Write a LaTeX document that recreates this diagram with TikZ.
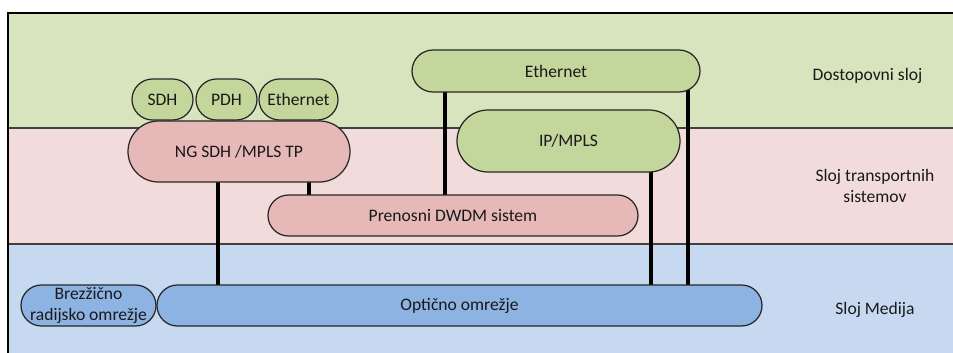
\documentclass[tikz,border=0pt]{standalone}
\usepackage{fontspec}
\setmainfont{Carlito}
\usetikzlibrary{positioning,backgrounds}
\definecolor{bandgreen}{HTML}{D7E4BD}
\definecolor{bandred}{HTML}{F2DCDB}
\definecolor{bandblue}{HTML}{C6D9F1}
\definecolor{boxgreen}{HTML}{C3D69B}
\definecolor{boxred}{HTML}{E6B9B8}
\definecolor{boxblue}{HTML}{8DB3E2}
\tikzset{
  pill/.style 2 args={draw=black!85,line width=0.7pt,inner sep=0pt,align=center,
    font=\fontsize{10}{11.5}\selectfont,text=black!90,
    minimum width=#1cm,minimum height=#2cm,rounded corners=#2*0.5cm},
  layername/.style={align=center,font=\fontsize{10}{11.5}\selectfont,text=black!90},
  link/.style={line width=2pt,black}
}

\begin{document}
\begin{tikzpicture}
  \useasboundingbox (0,0) rectangle (19.06,7.04);
  % pasovi slojev
  \begin{pgfonlayer}{background}
    \fill[bandgreen] (0.16,4.48) rectangle (19.2,6.78);
    \fill[bandred] (0.16,2.16) rectangle (19.2,4.48);
    \fill[bandblue] (0.16,-0.1) rectangle (19.2,2.16);
    \draw[black!75,line width=0.6pt] (0.16,4.48) -- (19.2,4.48);
    \draw[black!75,line width=0.6pt] (0.16,2.16) -- (19.2,2.16);
    \draw[black,line width=0.6pt] (0.16,-0.1) rectangle (19.2,6.78);
  \end{pgfonlayer}
  % dostopovni sloj
  \node[pill={1.22}{0.82},fill=boxgreen] (sdh) at (3.25,5.05) {SDH};
  \node[pill={1.22}{0.82},fill=boxgreen] (pdh) at (4.53,5.05) {PDH};
  \node[pill={1.58}{0.82},fill=boxgreen] (ethsmall) at (5.97,5.05) {Ethernet};
  \node[pill={5.76}{0.84},fill=boxgreen] (ethtop) at (11.12,5.62) {Ethernet};
  \node[pill={4.46}{1.24},fill=boxgreen] (ipmpls) at (11.37,4.22) {IP/MPLS};
  % transportni sloj
  \node[pill={4.44}{1.22},fill=boxred] (ngsdh) at (4.78,4.01) {NG SDH /MPLS TP};
  \node[pill={7.40}{0.82},fill=boxred] (dwdm) at (9.06,2.73) {Prenosni DWDM sistem};
  % medij
  \node[pill={2.70}{0.82},fill=boxblue] (brez) at (1.77,0.93) {Brezžično\\radijsko omrežje};
  \node[pill={12.10}{0.82},fill=boxblue] (opt) at (9.19,0.93) {Optično omrežje};
  % povezave
  \begin{pgfonlayer}{background}
    \draw[link] ([xshift=-0.42cm]ngsdh.center) -- ([xshift=-0.42cm]ngsdh.center |- opt.center);
    \draw[link] ([xshift=1.40cm]ngsdh.center) -- ([xshift=1.40cm]ngsdh.center |- dwdm.center);
    \draw[link] ([xshift=-2.22cm]ethtop.center) -- ([xshift=-2.22cm]ethtop.center |- dwdm.center);
    \draw[link] ([xshift=1.65cm]ipmpls.center) -- ([xshift=1.65cm]ipmpls.center |- opt.center);
    \draw[link] ([xshift=2.64cm]ethtop.center) -- ([xshift=2.64cm]ethtop.center |- opt.center);
  \end{pgfonlayer}
  % imena slojev
  \node[layername] (access) at (17.35,5.52) {Dostopovni sloj};
  \node[layername] (transport) at (17.5,3.32) {Sloj transportnih\\sistemov};
  \node[layername] (media) at (17.5,0.84) {Sloj Medija};
\end{tikzpicture}
\end{document}
